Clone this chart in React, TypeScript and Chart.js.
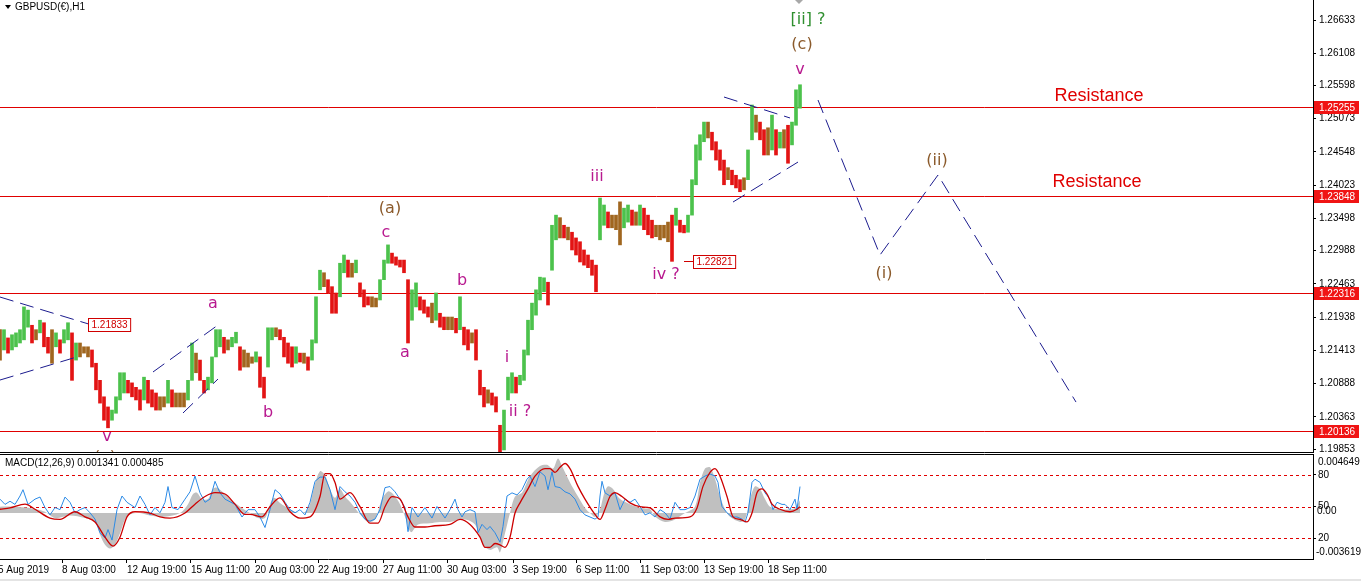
import React, { useEffect, useRef } from 'react';
import { Chart, registerables } from 'chart.js';
Chart.register(...registerables);

const AXIS_FONT = '"Liberation Sans", Arial, sans-serif';
const WAVE_FONT = '"DejaVu Sans", Verdana, sans-serif';

const HOURS_PER_BAR = 4;
const X_MAX = 1313;
const PRICE_MIN = 1.19792;
const PRICE_MAX = 1.26949;
const MACD_MIN = -0.003619;
const MACD_MAX = 0.004649;

const priceTicks = [1.26633, 1.26108, 1.25598, 1.25073, 1.24548, 1.24023, 1.23498, 1.22988, 1.22463, 1.21938, 1.21413, 1.20888, 1.20363, 1.19853];
const levelPrices = [1.25255, 1.23848, 1.22316, 1.20136];

const xTickHours = [-2, 62, 127, 191, 255, 318, 383, 447, 513, 576, 640, 704, 768];
const xTickLabels = ['5 Aug 2019', '8 Aug 03:00', '12 Aug 19:00', '15 Aug 11:00', '20 Aug 03:00', '22 Aug 19:00', '27 Aug 11:00', '30 Aug 03:00', '3 Sep 19:00', '6 Sep 11:00', '11 Sep 03:00', '13 Sep 19:00', '18 Sep 11:00'];

const highs = [
  1.2174, 1.2174, 1.2161, 1.2166, 1.2169, 1.2174, 1.2210, 1.2205, 1.2181, 1.2174,
  1.2189, 1.2185, 1.2162, 1.2174, 1.2169, 1.2158, 1.2174, 1.2185, 1.2169, 1.2153,
  1.2153, 1.2147, 1.2147, 1.2142, 1.2121, 1.2094, 1.2068, 1.2052, 1.2047, 1.2068,
  1.2106, 1.2106, 1.2094, 1.2090, 1.2083, 1.2079, 1.2099, 1.2094, 1.2079, 1.2074,
  1.2068, 1.2068, 1.2094, 1.2079, 1.2074, 1.2074, 1.2074, 1.2094, 1.2153, 1.2137,
  1.2126, 1.2094, 1.2099, 1.2131, 1.2174, 1.2174, 1.2162, 1.2158, 1.2162, 1.2170,
  1.2147, 1.2142, 1.2137, 1.2131, 1.2139, 1.2131, 1.2099, 1.2177, 1.2177, 1.2177,
  1.2174, 1.2162, 1.2153, 1.2147, 1.2147, 1.2137, 1.2137, 1.2131, 1.2158, 1.2226,
  1.2268, 1.2264, 1.2253, 1.2242, 1.2232, 1.2279, 1.2292, 1.2284, 1.2279, 1.2284,
  1.2248, 1.2237, 1.2226, 1.2226, 1.2224, 1.2253, 1.2284, 1.2308, 1.2295, 1.2289,
  1.2284, 1.2284, 1.2253, 1.2237, 1.2248, 1.2226, 1.2221, 1.2210, 1.2216, 1.2232,
  1.2200, 1.2194, 1.2194, 1.2194, 1.2192, 1.2226, 1.2178, 1.2174, 1.2169, 1.2174,
  1.2110, 1.2083, 1.2079, 1.2074, 1.2068, 1.2023, 1.2047, 1.2099, 1.2106, 1.2099,
  1.2102, 1.2142, 1.2189, 1.2216, 1.2237, 1.2257, 1.2256, 1.2249, 1.2339, 1.2355,
  1.2351, 1.2339, 1.2336, 1.2328, 1.2319, 1.2313, 1.2300, 1.2292, 1.2284, 1.2276,
  1.2382, 1.2371, 1.2360, 1.2355, 1.2355, 1.2376, 1.2366, 1.2371, 1.2363, 1.2360,
  1.2371, 1.2366, 1.2355, 1.2347, 1.2339, 1.2339, 1.2339, 1.2344, 1.2355, 1.2366,
  1.2347, 1.2339, 1.2355, 1.2411, 1.2466, 1.2482, 1.2502, 1.2502, 1.2486, 1.2471,
  1.2458, 1.2442, 1.2430, 1.2426, 1.2418, 1.2411, 1.2414, 1.2458, 1.2529, 1.2513,
  1.2502, 1.2490, 1.2493, 1.2513, 1.2490, 1.2486, 1.2490, 1.2497, 1.2502, 1.2553,
  1.2561,
];
const lows = [
  1.2126, 1.2142, 1.2137, 1.2142, 1.2147, 1.2153, 1.2158, 1.2178, 1.2153, 1.2158,
  1.2169, 1.2147, 1.2137, 1.2121, 1.2147, 1.2137, 1.2153, 1.2158, 1.2094, 1.2126,
  1.2131, 1.2137, 1.2131, 1.2115, 1.2079, 1.2058, 1.2031, 1.2019, 1.2031, 1.2042,
  1.2063, 1.2074, 1.2074, 1.2068, 1.2063, 1.2047, 1.2063, 1.2058, 1.2052, 1.2047,
  1.2047, 1.2052, 1.2058, 1.2052, 1.2052, 1.2052, 1.2052, 1.2063, 1.2094, 1.2106,
  1.2094, 1.2074, 1.2079, 1.2090, 1.2131, 1.2147, 1.2137, 1.2142, 1.2147, 1.2153,
  1.2110, 1.2115, 1.2115, 1.2121, 1.2123, 1.2083, 1.2066, 1.2115, 1.2158, 1.2163,
  1.2158, 1.2131, 1.2121, 1.2115, 1.2121, 1.2123, 1.2121, 1.2110, 1.2126, 1.2153,
  1.2237, 1.2242, 1.2232, 1.2200, 1.2200, 1.2226, 1.2264, 1.2257, 1.2257, 1.2264,
  1.2226, 1.2210, 1.2213, 1.2210, 1.2210, 1.2221, 1.2253, 1.2279, 1.2279, 1.2276,
  1.2273, 1.2264, 1.2153, 1.2189, 1.2210, 1.2205, 1.2200, 1.2194, 1.2185, 1.2189,
  1.2178, 1.2174, 1.2174, 1.2174, 1.2169, 1.2174, 1.2150, 1.2142, 1.2153, 1.2126,
  1.2071, 1.2052, 1.2058, 1.2055, 1.2044, 1.1960, 1.1984, 1.2063, 1.2074, 1.2074,
  1.2087, 1.2094, 1.2134, 1.2174, 1.2197, 1.2221, 1.2234, 1.2213, 1.2268, 1.2316,
  1.2319, 1.2319, 1.2316, 1.2300, 1.2292, 1.2281, 1.2276, 1.2272, 1.2260, 1.2234,
  1.2316, 1.2339, 1.2335, 1.2335, 1.2332, 1.2308, 1.2335, 1.2344, 1.2339, 1.2339,
  1.2339, 1.2332, 1.2324, 1.2319, 1.2321, 1.2316, 1.2319, 1.2313, 1.2282, 1.2339,
  1.2328, 1.2327, 1.2328, 1.2355, 1.2403, 1.2442, 1.2471, 1.2477, 1.2458, 1.2442,
  1.2426, 1.2403, 1.2411, 1.2403, 1.2398, 1.2392, 1.2395, 1.2411, 1.2474, 1.2486,
  1.2474, 1.2450, 1.2450, 1.2458, 1.2450, 1.2461, 1.2461, 1.2437, 1.2466, 1.2497,
  1.2524,
];

const histHours = [0,15,30,45,55,70,85,95,100,105,110,115,120,125,130,140,150,165,180,188,193,197,202,208,213,217,222,230,240,250,258,265,270,274,280,290,300,308,315,320,325,330,335,340,345,352,360,368,375,382,388,393,400,406,411,418,430,440,450,465,475,483,490,497,500,505,510,515,522,530,540,547,553,558,562,570,578,585,590,595,600,604,608,613,620,630,640,650,655,665,675,685,695,700,705,710,715,720,725,730,740,745,750,755,760,765,770,780,790,795,800];
const histValues = [0.0005,0.0005,0.0004,0.0001,-0.0004,-0.0002,-0.0004,-0.0007,-0.0017,-0.0025,-0.0028,-0.0025,-0.0016,-0.0005,-0.0001,0,-0.0002,-0.0003,0,0.0007,0.0015,0.0016,0.0011,0.0011,0.0019,0.0020,0.0017,0.0011,0.0005,0,-0.0004,-0.0004,0.0007,0.0012,0.0008,0.0003,0,0.0003,0.0023,0.0033,0.0030,0.0019,0.0012,0.0019,0.0013,0.0007,-0.0001,-0.0007,-0.0005,0.0011,0.0017,0.0015,0.0007,-0.0005,-0.0015,-0.0009,-0.0008,-0.0007,-0.0007,-0.0005,-0.0009,-0.0025,-0.0029,-0.0027,-0.0031,-0.0016,0,0.0013,0.0016,0.0029,0.0037,0.0038,0.0035,0.0043,0.0037,0.0024,0.0013,0.0004,0,-0.0003,0.0003,0.0015,0.0021,0.0019,0.0011,0.0007,0.0004,0.0003,-0.0003,-0.0007,-0.0005,0,0.0005,0.0024,0.0035,0.0036,0.0027,0.0013,0.0003,-0.0003,-0.0007,-0.0005,0.0011,0.0021,0.0019,0.0011,0.0005,0.0003,0.0003,0.0004,0.0010];

const signalHours = [0,10,25,35,50,60,75,85,95,105,113,120,127,135,150,160,170,185,195,205,215,225,235,245,250,262,270,280,290,300,310,320,325,330,335,340,350,360,370,378,385,392,400,408,415,425,435,450,460,470,480,485,490,495,500,505,510,515,520,528,535,545,550,555,560,565,570,578,585,595,600,605,610,615,622,630,640,650,660,668,675,690,697,703,710,715,720,727,733,740,747,752,757,762,767,772,780,790,797,800];
const signalValues = [0.0003,0.0004,0.0007,0.0003,-0.0004,-0.0005,0.0001,-0.0003,-0.0007,-0.0019,-0.0026,-0.0019,-0.0003,0.0001,0,-0.0003,-0.0004,0,0.0007,0.0013,0.0016,0.0015,0.0007,-0.0001,-0.0001,-0.0003,0.0005,0.0012,0.0001,-0.0004,-0.0003,0.0013,0.0031,0.0031,0.0024,0.0011,0.0016,0.0005,-0.0008,-0.0008,0.0005,0.0013,0.0011,-0.0003,-0.0011,-0.0011,-0.0010,-0.0009,-0.0005,-0.0009,-0.0019,-0.0027,-0.0027,-0.0024,-0.0025,-0.0027,-0.0019,0,0.0008,0.0019,0.0029,0.0035,0.0035,0.0032,0.0036,0.0039,0.0035,0.0021,0.0011,-0.0001,-0.0005,0.0003,0.0013,0.0016,0.0013,0.0008,0.0005,0.0004,-0.0003,-0.0005,-0.0004,-0.0003,0.0004,0.0021,0.0032,0.0035,0.0029,0.0013,-0.0003,-0.0005,-0.0007,0,0.0016,0.0019,0.0015,0.0007,0.0003,0.0001,0.0003,0.0005];

const oscHours = [0,5,10,15,20,23,28,35,40,45,50,55,60,65,70,75,80,85,90,95,100,105,108,112,117,122,127,135,140,145,150,155,160,165,168,172,178,185,190,195,200,205,210,215,220,225,235,242,248,255,260,265,270,275,280,285,290,295,300,305,310,315,320,325,330,335,340,345,350,355,360,365,370,375,380,385,390,395,400,405,408,412,418,425,432,437,445,450,455,458,462,465,470,475,478,482,487,490,495,500,503,507,512,517,522,527,530,535,540,545,548,552,555,560,565,570,575,580,585,590,595,598,600,602,605,610,615,620,625,630,635,640,645,650,655,660,665,670,675,680,685,690,695,700,705,710,715,718,720,722,727,732,737,742,745,748,752,755,760,765,770,773,777,782,785,790,795,797,800];
const oscValues = [57,52,55,52,60,66,52,57,59,49,42,49,47,59,54,44,47,49,44,38,25,20,28,18,47,60,54,49,60,52,42,49,44,54,69,49,47,57,64,79,63,54,57,74,63,57,52,40,47,47,40,30,47,66,62,54,47,44,47,42,54,74,78,78,66,47,69,64,60,54,44,38,36,38,47,68,69,64,57,49,26,49,40,49,39,50,39,47,57,47,40,45,47,45,25,33,28,31,25,16,31,60,63,61,66,76,79,69,83,79,66,83,69,68,64,62,57,47,42,40,38,40,60,74,63,60,63,47,57,54,57,50,42,44,40,47,44,38,54,47,47,49,60,76,79,81,79,73,60,50,44,40,40,38,35,44,73,76,73,63,57,47,54,52,52,47,57,47,69];
const oscLevels = [80, 50, 20];

const waveTexts = ['[ii] ?', '(c)', 'v', '(a)', 'c', 'iii', 'a', 'b', 'a', 'b', 'i', 'ii ?', 'iv ?', 'v', '(v)', '(i)', '(ii)'];
const waveHours = [808, 802, 800, 390, 386, 597, 213, 462, 405, 268, 507, 520, 666, 107, 105, 884, 937];
const wavePrices = [1.26633, 1.26238, 1.25843, 1.23647, 1.23268, 1.24153, 1.22146, 1.22509, 1.21372, 1.20424, 1.21293, 1.20439, 1.22604, 1.20045, 1.19713, 1.22620, 1.24405];
const waveKinds = ['g', 'p', 'm', 'p', 'm', 'm', 'm', 'm', 'm', 'm', 'm', 'm', 'm', 'm', 'p', 'p', 'p'];

const resistHours = [1099, 1097];
const resistPrices = [1.25432, 1.24073];

const markTexts = ['1.21833', '1.22821'];
const markHours = [88, 693];
const markPrices = [1.21833, 1.22821];

const trendStartHours = [0, 0, 153, 183, 724, 733];
const trendStartPrices = [1.22256, 1.20945, 1.21072, 1.20424, 1.25416, 1.23757];
const trendEndHours = [88, 80, 218, 218, 790, 798];
const trendEndPrices = [1.21833, 1.21324, 1.21814, 1.20961, 1.25085, 1.24389];
const projHours = [818, 880, 938, 1076];
const projPrices = [1.25369, 1.22920, 1.24184, 1.20597];

const GREEN = '#4cc24c';
const RED = '#e31414';
const BROWN = '#a0661f';
const NAVY = '#1c1c8e';
const LEVEL_RED = '#e00000';
const waveColors: Record<string, string> = { g: '#2f8f2f', p: '#8b5a2b', m: '#b8198f' };

const barColors = highs.map((h, i) => {
  if (i === 0) return BROWN;
  const d = (h + lows[i]) / 2 - (highs[i - 1] + lows[i - 1]) / 2;
  return d > 0.0003 ? GREEN : d < -0.0003 ? RED : BROWN;
});

const mainPlugin = {
  id: 'mainDecor',
  beforeDatasetsDraw(chart: any) {
    const { ctx, chartArea: a, scales } = chart;
    const y = scales.y;
    ctx.save();
    ctx.strokeStyle = LEVEL_RED;
    ctx.lineWidth = 1;
    levelPrices.forEach((v) => {
      const py = Math.round(y.getPixelForValue(v)) + 0.5;
      ctx.beginPath();
      ctx.moveTo(a.left, py);
      ctx.lineTo(a.right, py);
      ctx.stroke();
    });
    ctx.restore();
  },
  afterDraw(chart: any) {
    const { ctx, chartArea: a, scales } = chart;
    const x = scales.x, y = scales.y;
    ctx.save();
    ctx.strokeStyle = '#000';
    ctx.lineWidth = 1;
    ctx.beginPath();
    ctx.moveTo(0, a.bottom - 0.5);
    ctx.lineTo(a.right, a.bottom - 0.5);
    ctx.stroke();

    ctx.fillStyle = '#000';
    ctx.beginPath();
    ctx.moveTo(5, 5); ctx.lineTo(11, 5); ctx.lineTo(8, 9); ctx.closePath();
    ctx.fill();
    ctx.font = `10px ${AXIS_FONT}`;
    ctx.textBaseline = 'middle';
    ctx.textAlign = 'left';
    ctx.fillText('GBPUSD(€),H1', 15, 7.5);

    ctx.save();
    ctx.beginPath();
    ctx.rect(a.left, a.top, a.right - a.left, a.bottom - a.top - 1);
    ctx.clip();

    const mx = x.getPixelForValue(799);
    ctx.fillStyle = '#a8a8a8';
    ctx.beginPath();
    ctx.moveTo(mx - 4, 0); ctx.lineTo(mx + 4, 0); ctx.lineTo(mx, 4); ctx.closePath();
    ctx.fill();

    ctx.font = `16px ${WAVE_FONT}`;
    ctx.textAlign = 'center';
    ctx.textBaseline = 'middle';
    waveTexts.forEach((t, i) => {
      ctx.fillStyle = waveColors[waveKinds[i]];
      ctx.fillText(t, x.getPixelForValue(waveHours[i]), y.getPixelForValue(wavePrices[i]));
    });

    ctx.font = `18px ${AXIS_FONT}`;
    ctx.fillStyle = '#e00000';
    resistHours.forEach((h, i) => {
      ctx.fillText('Resistance', x.getPixelForValue(h), y.getPixelForValue(resistPrices[i]));
    });

    ctx.font = `10px ${AXIS_FONT}`;
    ctx.textAlign = 'left';
    markTexts.forEach((t, i) => {
      const px = Math.round(x.getPixelForValue(markHours[i])) + 0.5;
      const py = Math.round(y.getPixelForValue(markPrices[i])) + 0.5;
      const w = ctx.measureText(t).width + 6;
      ctx.fillStyle = '#fff';
      ctx.fillRect(px, py - 6, w, 13);
      ctx.strokeStyle = '#d00000';
      ctx.strokeRect(px, py - 6, w, 13);
      ctx.fillStyle = '#d00000';
      ctx.fillText(t, px + 3, py + 1);
      if (i === 1) {
        ctx.beginPath();
        ctx.moveTo(x.getPixelForValue(684), py);
        ctx.lineTo(px, py);
        ctx.stroke();
      }
    });
    ctx.restore();

    ctx.font = `10px ${AXIS_FONT}`;
    ctx.textAlign = 'left';
    ctx.textBaseline = 'middle';
    levelPrices.forEach((v) => {
      const py = Math.round(y.getPixelForValue(v));
      ctx.fillStyle = '#f01414';
      ctx.fillRect(a.right + 1, py - 6, 45, 13);
      ctx.fillStyle = '#fff';
      ctx.fillText(v.toFixed(5), a.right + 6, py + 1);
    });
    ctx.restore();
  },
};

const macdPlugin = {
  id: 'macdDecor',
  beforeDatasetsDraw(chart: any) {
    const { ctx, chartArea: a, scales } = chart;
    ctx.save();
    ctx.strokeStyle = LEVEL_RED;
    ctx.lineWidth = 1;
    ctx.setLineDash([3, 3]);
    oscLevels.forEach((v) => {
      const py = Math.round(scales.lv.getPixelForValue(v)) + 0.5;
      ctx.beginPath();
      ctx.moveTo(a.left, py);
      ctx.lineTo(a.right, py);
      ctx.stroke();
    });
    ctx.restore();
  },
  afterDraw(chart: any) {
    const { ctx, chartArea: a, scales } = chart;
    ctx.save();
    ctx.strokeStyle = '#000';
    ctx.lineWidth = 1;
    ctx.beginPath();
    ctx.moveTo(0, a.top + 0.5);
    ctx.lineTo(a.right, a.top + 0.5);
    ctx.stroke();
    ctx.fillStyle = '#000';
    ctx.font = `10px ${AXIS_FONT}`;
    ctx.textBaseline = 'middle';
    ctx.textAlign = 'left';
    ctx.fillText('MACD(12,26,9) 0.001341 0.000485', 5, 9);
    const m = scales.macd;
    ctx.fillText(MACD_MAX.toFixed(6), a.right + 5, m.getPixelForValue(MACD_MAX) + 8);
    ctx.fillText('0.00', a.right + 4, m.getPixelForValue(0) - 2);
    ctx.fillText(MACD_MIN.toFixed(6), a.right + 3, m.getPixelForValue(MACD_MIN) - 7);
    ctx.restore();
  },
};

export default function App() {
  const mainRef = useRef<HTMLCanvasElement>(null);
  const macdRef = useRef<HTMLCanvasElement>(null);

  useEffect(() => {
    const tickFont = { family: AXIS_FONT, size: 10 };
    const main = new Chart(mainRef.current as HTMLCanvasElement, {
      type: 'bar',
      data: {
        datasets: [
          ...trendStartHours.map((h, i) => ({
            type: 'line' as const,
            data: [{ x: h, y: trendStartPrices[i] }, { x: trendEndHours[i], y: trendEndPrices[i] }],
            borderColor: NAVY,
            borderWidth: 1,
            borderDash: [14, 7],
            pointRadius: 0,
            order: 1,
          })),
          {
            type: 'line' as const,
            data: projHours.map((h, i) => ({ x: h, y: projPrices[i] })),
            borderColor: NAVY,
            borderWidth: 1,
            borderDash: [14, 7],
            pointRadius: 0,
            order: 1,
          },
          {
            type: 'bar' as const,
            data: highs.map((h, i) => ({ x: i * HOURS_PER_BAR, y: [lows[i], h] })) as any,
            backgroundColor: barColors,
            borderWidth: 0,
            barThickness: 3,
            order: 5,
          },
        ],
      },
      options: {
        animation: false,
        responsive: false,
        maintainAspectRatio: false,
        events: [],
        layout: { padding: 0 },
        plugins: { legend: { display: false }, tooltip: { enabled: false } },
        scales: {
          x: { type: 'linear', min: 0, max: X_MAX, display: false, offset: false },
          y: {
            type: 'linear',
            position: 'right',
            min: PRICE_MIN,
            max: PRICE_MAX,
            afterBuildTicks: (s: any) => { s.ticks = priceTicks.map((v) => ({ value: v })); },
            afterFit: (s: any) => { s.width = 48; s.paddingTop = 0; s.paddingBottom = 0; },
            ticks: { autoSkip: false, color: '#000', font: tickFont, padding: 3, callback: (v: any) => Number(v).toFixed(5) },
            grid: { drawOnChartArea: false, drawTicks: true, tickLength: 3, color: '#000' },
            border: { display: true, color: '#000' },
          },
        },
      } as any,
      plugins: [mainPlugin],
    });

    const macd = new Chart(macdRef.current as HTMLCanvasElement, {
      type: 'line',
      data: {
        datasets: [
          {
            data: histHours.map((h, i) => ({ x: h, y: histValues[i] })),
            yAxisID: 'macd',
            borderWidth: 0,
            borderColor: 'rgba(0,0,0,0)',
            backgroundColor: '#c0c0c0',
            fill: 'origin',
            pointRadius: 0,
            tension: 0.3,
            order: 3,
          },
          {
            data: oscHours.map((h, i) => ({ x: h, y: oscValues[i] })),
            yAxisID: 'lv',
            borderWidth: 1,
            borderColor: '#2b8ae6',
            pointRadius: 0,
            tension: 0,
            order: 2,
          },
          {
            data: signalHours.map((h, i) => ({ x: h, y: signalValues[i] })),
            yAxisID: 'macd',
            borderWidth: 1.3,
            borderColor: '#cc0000',
            pointRadius: 0,
            cubicInterpolationMode: 'monotone',
            order: 1,
          },
        ],
      },
      options: {
        animation: false,
        responsive: false,
        maintainAspectRatio: false,
        events: [],
        layout: { padding: 0 },
        plugins: { legend: { display: false }, tooltip: { enabled: false } },
        scales: {
          x: {
            type: 'linear',
            min: 0,
            max: X_MAX,
            offset: false,
            afterBuildTicks: (s: any) => { s.ticks = xTickHours.map((v) => ({ value: v })); },
            afterFit: (s: any) => { s.height = 22; s.paddingLeft = 0; s.paddingRight = 0; },
            ticks: { autoSkip: false, maxRotation: 0, align: 'start', padding: 1, color: '#000', font: tickFont, callback: (_v: any, i: number) => xTickLabels[i] },
            grid: { drawOnChartArea: false, drawTicks: true, tickLength: 4, color: '#000' },
            border: { display: true, color: '#000' },
          },
          macd: { type: 'linear', position: 'right', display: false, min: MACD_MIN, max: MACD_MAX },
          lv: {
            type: 'linear',
            position: 'right',
            min: 0,
            max: 100,
            afterBuildTicks: (s: any) => { s.ticks = oscLevels.map((v) => ({ value: v })); },
            afterFit: (s: any) => { s.width = 48; s.paddingTop = 0; s.paddingBottom = 0; },
            ticks: { autoSkip: false, color: '#000', font: tickFont, padding: 2, callback: (v: any) => String(v) },
            grid: { drawOnChartArea: false, drawTicks: true, tickLength: 3, color: '#000' },
            border: { display: true, color: '#000' },
          },
        },
      } as any,
      plugins: [macdPlugin],
    });

    return () => {
      main.destroy();
      macd.destroy();
    };
  }, []);

  return (
    <div style={{ position: 'fixed', left: 0, top: 0, width: 1361, height: 581, background: '#fff', overflow: 'hidden' }}>
      <canvas ref={mainRef} width={1361} height={453} style={{ position: 'absolute', left: 0, top: 0, width: 1361, height: 453 }} />
      <canvas ref={macdRef} width={1361} height={127} style={{ position: 'absolute', left: 0, top: 454, width: 1361, height: 127 }} />
      <div style={{ position: 'absolute', left: 0, top: 579, width: 1361, height: 2, background: '#e4e4e4' }} />
    </div>
  );
}
